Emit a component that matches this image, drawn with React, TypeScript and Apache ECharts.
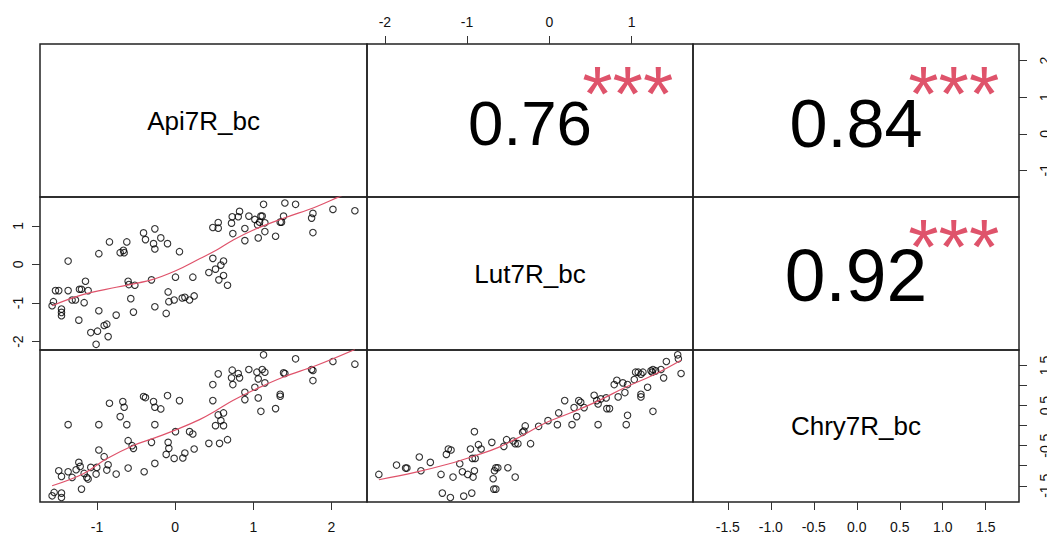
import React, { useEffect, useRef } from 'react';
import * as echarts from 'echarts';

// ---------- data ----------
const variableNames = ['Api7R_bc', 'Lut7R_bc', 'Chry7R_bc'];
const axisMin = [-1.73, -2.217, -1.905];
const axisMax = [2.455, 1.747, 1.887];

const apiTicks = [-1, 0, 1, 2];
const lutTicks = [-2, -1, 0, 1];
const chryTicks = [-1.5, -1, -0.5, 0, 0.5, 1, 1.5];
const chryRightLabels = [-1.5, -0.5, 0.5, 1.5];

// upper-panel correlations: [row, col, r, stars]
const corrCells: [number, number, number, string][] = [
  [0, 1, 0.76, '***'],
  [0, 2, 0.84, '***'],
  [1, 2, 0.92, '***'],
];

// Api (x) vs Lut (y)
const apiLutPoints: number[][] = [
  [-1.575, -1.07], [-1.558, -0.965], [-1.532, -0.678], [-1.49, -0.678], [-1.455, -1.157],
  [-1.455, -1.243], [-1.455, -1.33], [-1.37, 0.087], [-1.37, -0.678], [-1.319, -0.922],
  [-1.276, -0.922], [-1.233, -1.443], [-1.225, -0.643], [-1.199, -0.643], [-1.165, -0.991],
  [-1.148, -0.435], [-1.114, -0.678], [-1.08, -1.765], [-1.012, -2.07], [-0.994, -1.73],
  [-0.977, 0.278], [-0.977, -1.2], [-0.909, -1.583], [-0.875, -1.548], [-0.858, -1.87],
  [-0.841, 0.583], [-0.755, -1.313], [-0.704, 0.304], [-0.662, 0.365], [-0.653, 0.304],
  [-0.619, 0.583], [-0.602, -0.435], [-0.593, -0.522], [-0.568, -0.887], [-0.534, -1.235],
  [-0.516, -0.539], [-0.405, 0.817], [-0.38, 0.643], [-0.303, -0.4], [-0.277, 0.539],
  [-0.26, 0.4], [-0.26, 0.922], [-0.26, -1.096], [-0.184, 0.687], [-0.115, -1.27],
  [-0.098, 0.539], [-0.09, -0.713], [-0.081, -0.965], [-0.013, -0.922], [0.004, -0.33],
  [0.055, 0.33], [0.09, -0.87], [0.124, -0.852], [0.184, -0.922], [0.226, -0.33],
  [0.243, -0.817], [0.431, -0.209], [0.482, 0.957], [0.482, 0.157], [0.551, 1.087],
  [0.551, 0.939], [0.516, -0.122], [0.559, -0.4], [0.585, -0.017], [0.619, 0.087],
  [0.619, -0.287], [0.67, -0.539], [0.721, 1.07], [0.73, 1.235], [0.738, 0.8],
  [0.807, 1.235], [0.824, 1.374], [0.892, 0.93], [0.892, 0.617], [0.943, 1.252],
  [1.02, 1.165], [1.054, 1.026], [1.063, 0.687], [1.097, 1.252], [1.114, 1.252],
  [1.131, 1.557], [1.148, 1.078], [1.148, 0.852], [1.08, 1.096], [1.285, 0.73],
  [1.344, 1.096], [1.361, 1.096], [1.387, 1.252], [1.404, 1.591], [1.541, 1.557],
  [1.746, 1.2], [1.763, 1.322], [1.763, 0.826], [2.019, 1.426], [2.3, 1.391],
];
const apiLutSmooth: number[][] = [
  [-1.575, -1.07], [-1.182, -0.783], [-0.755, -0.591], [-0.307, -0.4], [0.013, -0.157],
  [0.312, 0.148], [0.525, 0.365], [0.738, 0.626], [0.994, 0.887], [1.379, 1.191],
  [1.805, 1.496], [2.104, 1.757], [2.3, 1.93],
];

// Api (x) vs Chry (y)
const apiChryPoints: number[][] = [
  [-1.575, -1.75], [-1.549, -1.667], [-1.455, -1.683], [-1.455, -1.792], [-1.49, -1.125],
  [-1.455, -1.267], [-1.37, -1.15], [-1.37, 0.025], [-1.319, -1.292], [-1.268, -1.1],
  [-1.233, -0.917], [-1.216, -1.017], [-1.199, -1.583], [-1.165, -1.192], [-1.131, -1.292],
  [-1.114, -1.333], [-1.08, -1.042], [-1.012, -1.208], [-1.003, -1.042], [-0.977, 0.025],
  [-0.977, -0.608], [-0.909, -0.775], [-0.875, -1.108], [-0.858, -0.975], [-0.841, 0.558],
  [-0.755, -1.208], [-0.704, 0.225], [-0.67, 0.6], [-0.653, 0.458], [-0.619, 0.025],
  [-0.602, -0.375], [-0.602, -1.058], [-0.551, -0.5], [-0.534, -0.567], [-0.405, 0.725],
  [-0.38, 0.7], [-0.397, -1.15], [-0.303, -0.417], [-0.277, 0.6], [-0.26, 0.458],
  [-0.26, 0.025], [-0.26, -0.942], [-0.184, 0.417], [-0.115, -0.717], [-0.098, 0.75],
  [-0.09, -0.417], [-0.081, -0.567], [-0.013, -0.817], [0.004, -0.15], [0.055, 0.625],
  [0.098, -0.808], [0.124, -0.683], [0.184, -0.15], [0.226, -0.208], [0.243, -0.583],
  [0.431, -0.442], [0.482, 1.025], [0.482, 0.625], [0.516, 0.0], [0.551, 1.292],
  [0.551, 0.267], [0.568, -0.442], [0.585, 0.125], [0.619, 0.317], [0.619, 0.0],
  [0.67, -0.35], [0.721, 1.192], [0.73, 1.383], [0.738, 1.025], [0.807, 1.3],
  [0.824, 1.192], [0.892, 0.833], [0.892, 0.65], [0.943, 1.4], [1.02, 0.958],
  [1.046, 1.333], [1.063, 1.167], [1.063, 0.692], [1.097, 0.358], [1.114, 1.4],
  [1.131, 1.767], [1.148, 1.333], [1.148, 1.067], [1.285, 0.425], [1.344, 0.733],
  [1.344, 0.783], [1.387, 1.317], [1.404, 1.3], [1.541, 1.667], [1.746, 1.4],
  [1.763, 1.375], [1.763, 1.125], [2.019, 1.6], [2.3, 1.533],
];
const apiChrySmooth: number[][] = [
  [-1.575, -1.5], [-1.182, -1.208], [-0.883, -0.833], [-0.542, -0.5], [-0.243, -0.292],
  [0.013, -0.1], [0.312, 0.15], [0.525, 0.38], [0.738, 0.625], [0.994, 0.875],
  [1.379, 1.208], [1.805, 1.5], [2.3, 1.9],
];

// Lut (x) vs Chry (y)
const lutChryPoints: number[][] = [
  [-2.073, -1.217], [-1.858, -0.983], [-1.748, -1.058], [-1.732, -1.058], [-1.581, -0.783],
  [-1.561, -1.125], [-1.447, -0.917], [-1.317, -1.217], [-1.301, -1.683], [-1.252, -0.717],
  [-1.228, -0.583], [-1.195, -0.608], [-1.203, -1.792], [-1.171, -1.283], [-1.089, -0.95],
  [-1.057, -1.15], [-1.041, -1.758], [-0.992, -1.217], [-0.959, -0.583], [-0.943, -1.683],
  [-0.935, -0.817], [-0.902, -0.817], [-0.927, -1.283], [-0.911, -0.15], [-0.911, -1.125],
  [-0.862, -0.475], [-0.829, -0.583], [-0.699, -0.417], [-0.683, -1.325], [-0.667, -1.125],
  [-0.65, -1.05], [-0.626, -1.05], [-0.675, -1.583], [-0.65, -1.583], [-0.553, -0.517],
  [-0.52, -0.35], [-0.504, -1.05], [-0.439, -0.383], [-0.415, -0.45], [-0.415, -1.283],
  [-0.382, -0.45], [-0.325, -0.167], [-0.309, -0.133], [-0.293, -0.008], [-0.228, -0.45],
  [-0.13, -0.017], [-0.016, 0.125], [0.098, 0.025], [0.114, 0.317], [0.187, 0.625],
  [0.276, 0.025], [0.301, 0.45], [0.333, 0.225], [0.358, 0.625], [0.382, 0.583],
  [0.423, 0.45], [0.545, 0.758], [0.577, 0.625], [0.593, 0.542], [0.593, 0.025],
  [0.626, 0.667], [0.691, 0.692], [0.699, 0.425], [0.732, 0.425], [0.789, 1.025],
  [0.821, 1.133], [0.837, 0.717], [0.894, 1.067], [0.919, 0.825], [0.935, 0.025],
  [0.951, 0.258], [0.951, 1.025], [1.033, 1.15], [1.049, 1.333], [1.081, 1.333],
  [1.114, 1.283], [1.114, 0.783], [1.114, 0.717], [1.138, 1.333], [1.195, 0.958],
  [1.236, 1.367], [1.252, 1.333], [1.26, 1.4], [1.26, 0.358], [1.293, 1.367],
  [1.358, 1.4], [1.39, 1.192], [1.423, 1.6], [1.561, 1.767], [1.569, 1.667],
  [1.602, 1.3],
];
const lutChrySmooth: number[][] = [
  [-2.073, -1.35], [-1.634, -1.167], [-1.228, -0.958], [-0.902, -0.75], [-0.618, -0.542],
  [-0.333, -0.25], [-0.049, 0.067], [0.276, 0.333], [0.602, 0.625], [0.927, 0.958],
  [1.252, 1.25], [1.602, 1.633],
];

// ---------- layout ----------
const colEdges = [40, 367, 693, 1019];
const rowEdges = [44, 197, 350, 502];
const FONT = '"Liberation Sans", Arial, Helvetica, sans-serif';
const STAR_COLOR = '#DF536B';
const LINE_COLOR = '#DF536B';

const scatterCells: [number, number, number[][], number[][]][] = [
  [1, 0, apiLutPoints, apiLutSmooth],
  [2, 0, apiChryPoints, apiChrySmooth],
  [2, 1, lutChryPoints, lutChrySmooth],
];

type AxisVis = {
  position: string;
  ticks: number[];
  labels: number[];
  rotate: number;
  margin: number;
  fmt: (v: number) => string;
};

function makeAxis(varIdx: number, gridIndex: number, vis: AxisVis | null) {
  return {
    type: 'value',
    gridIndex,
    min: axisMin[varIdx],
    max: axisMax[varIdx],
    show: !!vis,
    position: vis ? vis.position : undefined,
    axisLine: { show: false, onZero: false },
    splitLine: { show: false },
    axisTick: {
      show: true,
      inside: false,
      length: 8,
      customValues: vis ? vis.ticks : undefined,
      lineStyle: { color: '#333', width: 1 },
    },
    axisLabel: {
      show: true,
      customValues: vis ? vis.labels : undefined,
      rotate: vis ? vis.rotate : 0,
      margin: vis ? vis.margin : 8,
      color: '#111',
      fontSize: 14,
      fontFamily: FONT,
      formatter: vis ? (v: number) => vis.fmt(v) : undefined,
    },
  };
}

const intFmt = (v: number) => String(Math.round(v));
const oneDec = (v: number) => v.toFixed(1);

function buildOption() {
  const grid: any[] = [];
  const xAxis: any[] = [];
  const yAxis: any[] = [];
  const series: any[] = [];

  for (let r = 0; r < 3; r++) {
    for (let c = 0; c < 3; c++) {
      const i = r * 3 + c;
      grid.push({
        left: colEdges[c],
        top: rowEdges[r],
        width: colEdges[c + 1] - colEdges[c],
        height: rowEdges[r + 1] - rowEdges[r],
        show: true,
        borderColor: '#222',
        borderWidth: 1.5,
        backgroundColor: 'transparent',
        containLabel: false,
        outerBoundsMode: 'none',
      });
      let xVis: AxisVis | null = null;
      let yVis: AxisVis | null = null;
      if (r === 0 && c === 1) xVis = { position: 'top', ticks: lutTicks, labels: lutTicks, rotate: 0, margin: 15, fmt: intFmt };
      if (r === 2 && c === 0) xVis = { position: 'bottom', ticks: apiTicks, labels: apiTicks, rotate: 0, margin: 18, fmt: intFmt };
      if (r === 2 && c === 2) xVis = { position: 'bottom', ticks: chryTicks, labels: chryTicks, rotate: 0, margin: 18, fmt: oneDec };
      if (r === 0 && c === 2) yVis = { position: 'right', ticks: apiTicks, labels: apiTicks, rotate: 90, margin: 19, fmt: intFmt };
      if (r === 1 && c === 0) yVis = { position: 'left', ticks: lutTicks, labels: lutTicks, rotate: 90, margin: 15, fmt: intFmt };
      if (r === 2 && c === 2) yVis = { position: 'right', ticks: chryTicks, labels: chryRightLabels, rotate: 90, margin: 19, fmt: oneDec };
      xAxis.push(makeAxis(c, i, xVis));
      yAxis.push(makeAxis(r, i, yVis));
    }
  }

  scatterCells.forEach(([r, c, pts, smooth]) => {
    const i = r * 3 + c;
    series.push({
      type: 'scatter',
      xAxisIndex: i,
      yAxisIndex: i,
      data: pts,
      symbol: 'circle',
      symbolSize: 6.5,
      itemStyle: { color: 'transparent', borderColor: '#000', borderWidth: 1.1 },
      silent: true,
    });
    series.push({
      type: 'line',
      xAxisIndex: i,
      yAxisIndex: i,
      data: smooth,
      smooth: 0.4,
      showSymbol: false,
      clip: true,
      lineStyle: { color: LINE_COLOR, width: 1.2 },
      silent: true,
    });
  });

  const graphic: any[] = [];
  variableNames.forEach((name, k) => {
    graphic.push({
      type: 'text',
      x: (colEdges[k] + colEdges[k + 1]) / 2,
      y: (rowEdges[k] + rowEdges[k + 1]) / 2,
      style: { text: name, fontSize: 26, fontFamily: FONT, fill: '#000', align: 'center', verticalAlign: 'middle' },
    });
  });
  const baseCex = 78;
  corrCells.forEach(([r, c, val, stars]) => {
    const cx = (colEdges[c] + colEdges[c + 1]) / 2;
    const cy = (rowEdges[r] + rowEdges[r + 1]) / 2;
    graphic.push({
      type: 'text',
      x: cx,
      y: cy + 2,
      style: {
        text: val.toFixed(2),
        fontSize: (baseCex * (Math.abs(val) + 0.3)) / 1.3,
        fontFamily: FONT,
        fill: '#000',
        align: 'center',
        verticalAlign: 'middle',
      },
    });
    const w = colEdges[c + 1] - colEdges[c];
    graphic.push({
      type: 'text',
      x: colEdges[c] + 0.8 * w,
      y: rowEdges[r] + 50,
      style: { text: stars, fontSize: baseCex, fontFamily: FONT, fill: STAR_COLOR, align: 'center', verticalAlign: 'middle' },
    });
  });

  return {
    animation: false,
    backgroundColor: '#fff',
    grid,
    xAxis,
    yAxis,
    series,
    graphic,
  };
}

export default function App() {
  const ref = useRef<HTMLDivElement>(null);
  useEffect(() => {
    if (!ref.current) return;
    const chart = echarts.init(ref.current, undefined, { renderer: 'svg' });
    chart.setOption(buildOption() as any);
    return () => chart.dispose();
  }, []);
  return <div ref={ref} style={{ position: 'absolute', left: 0, top: 0, width: 1047, height: 535 }} />;
}
